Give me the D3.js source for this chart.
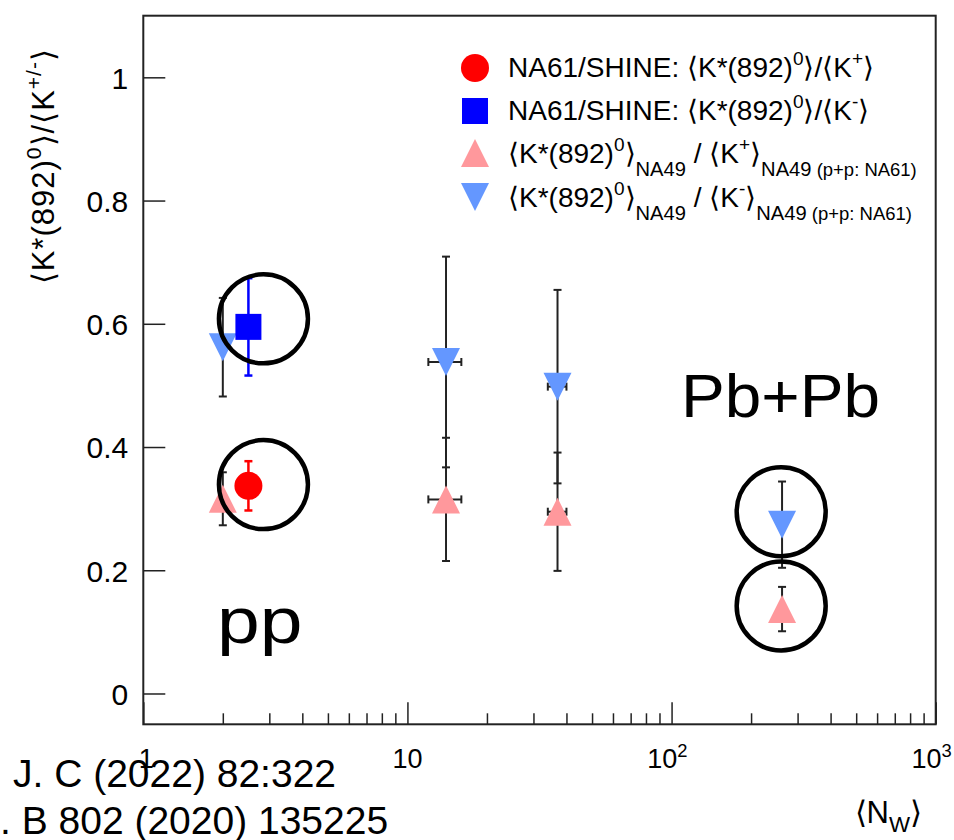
<!DOCTYPE html>
<html>
<head>
<meta charset="utf-8">
<script src="https://cdn.jsdelivr.net/npm/d3@7"></script>
<style>
  body { margin: 0; background: #fff; }
  svg { display: block; }
  text { font-family: "Liberation Sans", Arial, Helvetica, sans-serif; fill: #000; }
</style>
</head>
<body>
<svg id="chart" width="954" height="840"></svg>
<script>
// NA61/SHINE p+p (shifted slightly in <N_W> for visibility)
const na61Nw = [2.5];
const na61KstarOverKplus = [0.337];
const na61KstarOverKplusErr = [0.040];
const na61KstarOverKminus = [0.595];
const na61KstarOverKminusErr = [0.079];

// NA49: p+p (NA61 kaons), C+C, Si+Si, Pb+Pb
const na49Nw = [2, 14, 37, 262];
const na49NwErr = [0, 2, 3, 0];
const na49KstarOverKplus = [0.316, 0.315, 0.295, 0.137];
const na49KstarOverKplusErr = [0.043, 0.100, 0.096, 0.036];
const na49KstarOverKminus = [0.562, 0.538, 0.498, 0.274];
const na49KstarOverKminusErr = [0.080, 0.171, 0.157, 0.070];

// axis ticks
const yTicks = [0, 0.2, 0.4, 0.6, 0.8, 1];
const yTickLabels = ["0", "0.2", "0.4", "0.6", "0.8", "1"];
const xMajorTicks = [1, 10, 100, 1000];
const xTickLabels = [["1", ""], ["10", ""], ["10", "2"], ["10", "3"]];

// highlighted points: ring centres in data units
const ringNw = [2.85, 2.85, 260, 260];
const ringRatio = [0.608, 0.339, 0.295, 0.142];

const frame = { left: 143.3, right: 935.7, top: 15.7, bottom: 724.3 };

const C = {
  red: "#ff0000",
  blue: "#0000ff",
  pink: "#ff989c",
  lightBlue: "#6497ff",
  err: "#222222",
  axis: "#222222"
};

const svg = d3.select("#chart");

const x = d3.scaleLog().domain([1, 1000]).range([frame.left, frame.right]);
const y = d3.scaleLinear().domain([-0.05, 1.1]).range([frame.bottom, frame.top]);

// ---------- axes ----------
const xMinor = [];
[1, 10, 100].forEach(d => { for (let k = 2; k <= 9; k++) xMinor.push(d * k); });

svg.append("g")
  .attr("transform", `translate(0,${frame.bottom})`)
  .call(d3.axisBottom(x).tickValues(xMinor).tickSizeInner(-11).tickSizeOuter(0).tickFormat(""))
  .call(g => g.select(".domain").remove())
  .call(g => g.selectAll(".tick line").attr("stroke", C.axis).attr("stroke-width", 1.5));

svg.append("g")
  .attr("transform", `translate(0,${frame.bottom})`)
  .call(d3.axisBottom(x).tickValues(xMajorTicks).tickSizeInner(-22).tickSizeOuter(0).tickFormat(""))
  .call(g => g.select(".domain").remove())
  .call(g => g.selectAll(".tick line").attr("stroke", C.axis).attr("stroke-width", 1.5));

svg.append("g")
  .attr("transform", `translate(${frame.left},0)`)
  .call(d3.axisLeft(y).tickValues(yTicks).tickSizeInner(-22).tickSizeOuter(0)
    .tickPadding(15).tickFormat((d, i) => yTickLabels[i]))
  .call(g => g.select(".domain").remove())
  .call(g => g.selectAll(".tick line").attr("stroke", C.axis).attr("stroke-width", 1.5))
  .call(g => g.selectAll(".tick text")
    .attr("font-family", "'Liberation Sans', Arial, sans-serif")
    .attr("font-size", 30).attr("fill", "#000").attr("dy", "0.36em"));

// frame
svg.append("rect")
  .attr("x", frame.left).attr("y", frame.top)
  .attr("width", frame.right - frame.left).attr("height", frame.bottom - frame.top)
  .attr("fill", "none").attr("stroke", C.axis).attr("stroke-width", 2);

// rich text helper: parts = [[string, kind]] with kind "", "sup", "sub", "subs"
function rich(parent, px, py, parts, size, anchor) {
  const t = parent.append("text")
    .attr("x", px).attr("y", py)
    .attr("font-size", size)
    .attr("text-anchor", anchor || "start");
  let cur = 0;
  parts.forEach(([str, kind]) => {
    let off = 0, fs = size;
    if (kind === "sup") { off = -0.42 * size; fs = 0.68 * size; }
    else if (kind === "sub") { off = 0.45 * size; fs = 0.72 * size; }
    else if (kind === "subs") { off = 0.45 * size; fs = 0.66 * size; }
    else if (kind === "subx") { off = 0.3 * size; fs = 0.72 * size; }
    t.append("tspan").attr("dy", off - cur).attr("font-size", fs).text(str);
    cur = off;
  });
  return t;
}

// x tick labels
xMajorTicks.forEach((v, i) => {
  const [base, sup] = xTickLabels[i];
  const parts = [[base, ""]];
  if (sup) parts.push([sup, "sup"]);
  rich(svg, sup ? x(v) + 16 : x(v) + (i === 0 ? 3 : 0), 768, parts, 27, sup ? "end" : "middle");
});

// axis titles
rich(svg.append("g").attr("transform", "translate(54,48) rotate(-90)"), 0, 0,
  [["\u27E8K*(892)", ""], ["0", "sup"], ["\u27E9/\u27E8K", ""], ["+/-", "sup"], ["\u27E9", ""]], 31, "end")
  .attr("letter-spacing", 1);

rich(svg, 922, 823, [["\u27E8N", ""], ["W", "subx"], ["\u27E9", ""]], 31, "end");

// ---------- markers ----------
function triPath(cx, cy, s, up) {
  const h = s / 2;
  const pts = up
    ? [[cx, cy - h], [cx + h, cy + h], [cx - h, cy + h]]
    : [[cx, cy + h], [cx + h, cy - h], [cx - h, cy - h]];
  return d3.line()(pts) + "Z";
}

function errorBars(g, xs, ys, ye, xe, color, width) {
  const cap = 4;
  xs.forEach((xv, i) => {
    const cx = x(xv);
    const y0 = y(ys[i] - ye[i]), y1 = y(ys[i] + ye[i]);
    g.append("line").attr("x1", cx).attr("x2", cx).attr("y1", y0).attr("y2", y1)
      .attr("stroke", color).attr("stroke-width", width);
    [y0, y1].forEach(yy => g.append("line")
      .attr("x1", cx - cap).attr("x2", cx + cap).attr("y1", yy).attr("y2", yy)
      .attr("stroke", color).attr("stroke-width", width));
    if (xe && xe[i] > 0) {
      const x0 = x(xv - xe[i]), x1 = x(xv + xe[i]), cy = y(ys[i]);
      g.append("line").attr("x1", x0).attr("x2", x1).attr("y1", cy).attr("y2", cy)
        .attr("stroke", color).attr("stroke-width", width);
      [x0, x1].forEach(xx => g.append("line")
        .attr("x1", xx).attr("x2", xx).attr("y1", cy - cap).attr("y2", cy + cap)
        .attr("stroke", color).attr("stroke-width", width));
    }
  });
}

const plot = svg.append("g");

// NA49 error bars and markers
errorBars(plot, na49Nw, na49KstarOverKminus, na49KstarOverKminusErr, na49NwErr, C.err, 2);
errorBars(plot, na49Nw, na49KstarOverKplus, na49KstarOverKplusErr, na49NwErr, C.err, 2);

plot.selectAll("path.kminus").data(na49Nw).join("path")
  .attr("class", "kminus")
  .attr("d", (d, i) => triPath(x(d), y(na49KstarOverKminus[i]), 28, false))
  .attr("fill", C.lightBlue);

plot.selectAll("path.kplus").data(na49Nw).join("path")
  .attr("class", "kplus")
  .attr("d", (d, i) => triPath(x(d), y(na49KstarOverKplus[i]), 28, true))
  .attr("fill", C.pink);

// NA61 error bars and markers
errorBars(plot, na61Nw, na61KstarOverKminus, na61KstarOverKminusErr, null, C.blue, 2.5);
errorBars(plot, na61Nw, na61KstarOverKplus, na61KstarOverKplusErr, null, C.red, 2.5);

plot.selectAll("rect.na61").data(na61Nw).join("rect")
  .attr("class", "na61")
  .attr("x", d => x(d) - 13).attr("width", 26)
  .attr("y", (d, i) => y(na61KstarOverKminus[i]) - 13).attr("height", 26)
  .attr("fill", C.blue);

plot.selectAll("circle.na61").data(na61Nw).join("circle")
  .attr("class", "na61")
  .attr("cx", d => x(d)).attr("cy", (d, i) => y(na61KstarOverKplus[i]))
  .attr("r", 14).attr("fill", C.red);

// highlight rings
svg.selectAll("circle.ring").data(ringNw).join("circle")
  .attr("class", "ring")
  .attr("cx", d => x(d)).attr("cy", (d, i) => y(ringRatio[i]))
  .attr("r", 44.5)
  .attr("fill", "none").attr("stroke", "#000").attr("stroke-width", 4.5);

// ---------- legend ----------
const legend = svg.append("g");
const lx = 475, tx = 508;
const rowY = [68, 111, 153, 197];
const lsize = 28;

legend.append("circle").attr("cx", lx).attr("cy", rowY[0]).attr("r", 14).attr("fill", C.red);
legend.append("rect").attr("x", lx - 13).attr("y", rowY[1] - 13).attr("width", 26).attr("height", 26).attr("fill", C.blue);
legend.append("path").attr("d", triPath(lx, rowY[2], 28, true)).attr("fill", C.pink);
legend.append("path").attr("d", triPath(lx, rowY[3], 28, false)).attr("fill", C.lightBlue);

rich(legend, tx, rowY[0] + 9, [["NA61/SHINE: \u27E8K*(892)", ""], ["0", "sup"], ["\u27E9/\u27E8K", ""], ["+", "sup"], ["\u27E9", ""]], lsize);
rich(legend, tx, rowY[1] + 9, [["NA61/SHINE: \u27E8K*(892)", ""], ["0", "sup"], ["\u27E9/\u27E8K", ""], ["-", "sup"], ["\u27E9", ""]], lsize);
rich(legend, tx, rowY[2] + 10, [["\u27E8K*(892)", ""], ["0", "sup"], ["\u27E9", ""], ["NA49", "sub"], [" / \u27E8K", ""], ["+", "sup"], ["\u27E9", ""], ["NA49", "sub"], [" (p+p: NA61)", "subs"]], lsize);
rich(legend, tx, rowY[3] + 10, [["\u27E8K*(892)", ""], ["0", "sup"], ["\u27E9", ""], ["NA49", "sub"], [" / \u27E8K", ""], ["-", "sup"], ["\u27E9", ""], ["NA49", "sub"], [" (p+p: NA61)", "subs"]], lsize);

// ---------- annotations ----------
svg.append("text").attr("transform", "translate(217,643) scale(1.2,1)").attr("font-size", 64).text("pp");
svg.append("text").attr("transform", "translate(681,417) scale(1.06,1)").attr("font-size", 62).text("Pb+Pb");

svg.append("text").attr("x", 13).attr("y", 787).attr("font-size", 39).text("J. C (2022) 82:322");
svg.append("text").attr("x", 0).attr("y", 834).attr("font-size", 39).text(". B 802 (2020) 135225");
</script>
</body>
</html>
